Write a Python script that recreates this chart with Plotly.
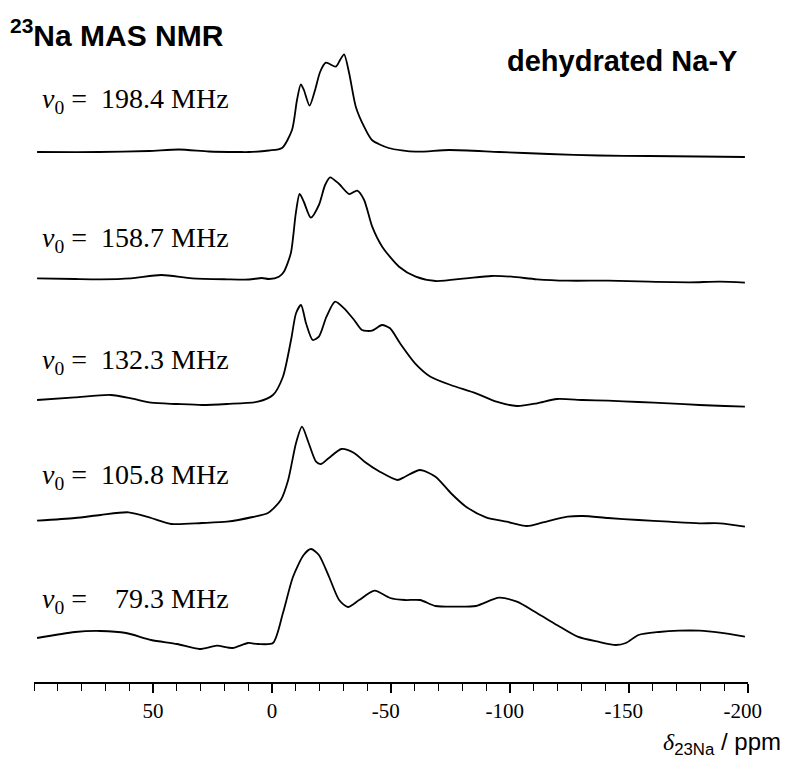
import plotly.graph_objects as go

W, H = 794, 760
ML, MR, MT, MB = 34, 46, 40, 78
PW, PH = W - ML - MR, H - MT - MB

# ---------------- data (chemical shift in ppm, intensity in arbitrary units) -------------
ppm_198 = [98.7, 72.7, 51.7, 39.1, 26.5, 13.9, 9.7, 1.3, -4.2, -8.4, -10.5, -12.1, -13.4, -15.8,
           -18.1, -20.2, -22.6, -26.8, -28.6, -30.3, -32.4, -35.2, -38.7, -42.0, -49.0, -60.4,
           -74.4, -95.4, -116.4, -137.4, -158.4, -179.4, -198.7]
int_198 = [3, 3, 4, 5.5, 3.5, 3, 3, 4.5, 7, 25, 55, 70.7, 65, 49.3,
           65, 83, 92.3, 88.3, 95, 100.7, 82, 48.3, 28.3, 15, 7, 3.3,
           5, 3, 1, -0.5, -1, -1.5, -2]

ppm_158 = [98.7, 82.8, 72.1, 59.2, 46.5, 33.6, 18.9, 9.7, 4.2, 1.3, -2.9, -5.0, -7.9, -10.0,
           -11.6, -13.4, -16.3, -19.7, -22.3, -24.4, -28.2, -32.4, -35.8, -38.7, -42.1, -46.3,
           -53.4, -60.4, -68.8, -81.5, -92.2, -100.7, -111.3, -124.2, -141.2, -158.3, -175.4,
           -188.2, -198.7]
int_158 = [0.7, 0, -0.3, 0.7, 4, 0.7, -0.3, -0.5, 1, 0, 2.3, 7.3, 25.7, 65.7,
           85, 77, 61.3, 74, 94, 101.7, 95, 85, 88.3, 79, 52.3, 32.3,
           12.3, 2.3, -2, 0.7, 3, 2.3, -0.3, -1.7, -1.7, -2.7, -3.3,
           -2.7, -3.7]

ppm_132 = [98.7, 82.8, 67.8, 59.2, 50.8, 40.0, 29.4, 18.9, 5.9, -0.4, -4.6, -8.0, -10.1, -12.2,
           -14.3, -17.1, -19.7, -22.9, -26.5, -30.3, -34.5, -37.8, -42.0, -46.2, -49.6, -53.8,
           -60.1, -66.6, -75.1, -85.7, -94.3, -102.9, -111.3, -119.7, -130.6, -141.2, -154.0,
           -166.8, -179.6, -190.3, -198.7]
int_132 = [3, 5.7, 8, 4.7, 0.3, -1, -2, -1, 1.3, 8, 26.3, 63, 89.7, 98,
           79.7, 63, 66.3, 86.3, 101.3, 94.7, 83, 73, 72.3, 78, 74.7, 59.7,
           39.7, 26.3, 18, 9.7, 1.3, -3, -0.3, 4, 3, 2.3, 1,
           -0.3, -2, -3, -3.7]

ppm_105 = [98.7, 82.8, 72.1, 60.3, 50.8, 42.2, 29.4, 18.9, 8.1, 1.7, -3.7, -6.8, -10.1, -12.6,
           -15.4, -18.5, -20.6, -23.9, -29.2, -34.5, -38.9, -45.3, -52.7, -55.9, -62.2, -68.7,
           -75.1, -81.5, -89.9, -98.6, -107.1, -113.4, -124.2, -130.6, -141.2, -154.0, -166.8,
           -179.6, -188.2, -198.7]
int_105 = [0.3, 3, 6, 8.7, 3, -3, -2, -0.7, 4, 8, 21, 41, 78, 94.3,
           78, 59.3, 57, 63, 72, 68, 59.3, 49.3, 41, 44.3, 51, 44.3,
           28, 14.3, 3.7, -0.7, -5, -1.7, 4.3, 5, 3, 1, -0.7,
           -2.3, -2.3, -5.7]

ppm_79 = [98.7, 82.8, 72.1, 61.3, 50.8, 39.9, 30.5, 23.1, 16.6, 10.1, 5.9, -0.4, -4.6, -8.8,
          -13.3, -16.4, -19.7, -24.0, -28.2, -31.9, -36.6, -43.1, -49.6, -55.9, -62.2, -68.7,
          -77.3, -85.7, -95.4, -102.9, -111.3, -119.7, -128.4, -137.0, -144.5, -148.7, -154.0,
          -162.6, -171.0, -179.6, -188.2, -198.7]
int_79 = [2, 8, 9, 7, 0, -4, -9, -5.7, -8, -3, -4, -3, 27, 63,
          85, 91, 85, 63, 40, 33, 40, 49.3, 42, 40, 40, 34,
          33.3, 34, 42.3, 38.3, 27, 15, 3.3, -1.7, -5, -3, 5,
          8, 9.3, 9.3, 7.3, 3.3]

freqs = ["198.4", "158.7", "132.3", "105.8", "79.3"]
offsets = [527, 403, 279, 161, 42]

tick_vals = [50, 0, -50, -100, -150, -200]
tick_text = ["50", "0", "-50", "-100", "-150", "-200"]

spectra = [(ppm_198, int_198), (ppm_158, int_158), (ppm_132, int_132),
           (ppm_105, int_105), (ppm_79, int_79)]

# ---------------- figure ----------------
fig = go.Figure()
for (xs, ys), off in zip(spectra, offsets):
    fig.add_trace(go.Scatter(
        x=xs, y=[v + off for v in ys], mode="lines",
        line=dict(color="black", width=1.8, shape="spline", smoothing=0.7),
        showlegend=False, hoverinfo="skip"))


def px(x):
    return (x - ML) / PW


def py(y):
    return (H - MB - y) / PH


SERIF = "Liberation Serif, Times New Roman, serif"
SANS = "Liberation Sans, Arial, sans-serif"

ann = []
label_y = [101, 239, 362, 476, 600]
for f, ly in zip(freqs, label_y):
    sp = "\u00a0\u00a0" if len(f) == 5 else "\u00a0\u00a0\u00a0\u00a0"
    ann.append(dict(
        x=px(40), y=py(ly), xref="paper", yref="paper", xanchor="left", yanchor="middle",
        text="<i>\u03bd</i><sub>0</sub> =" + sp + f + " MHz",
        showarrow=False, font=dict(family=SERIF, size=28, color="black")))

ann.append(dict(x=px(8), y=py(33), xref="paper", yref="paper", xanchor="left", yanchor="middle",
                text="<b><sup>23</sup>Na MAS NMR</b>", showarrow=False,
                font=dict(family=SANS, size=30, color="black")))
ann.append(dict(x=px(739), y=py(61), xref="paper", yref="paper", xanchor="right", yanchor="middle",
                text="<b>dehydrated Na-Y</b>", showarrow=False,
                font=dict(family=SANS, size=29, color="black")))
ann.append(dict(x=px(661), y=py(743), xref="paper", yref="paper", xanchor="left", yanchor="middle",
                text="<span style=\"font-family:Liberation Serif\"><i>\u03b4</i></span>"
                     "<sub>23Na</sub> / ppm",
                showarrow=False, font=dict(family=SANS, size=24, color="black")))

# negative labels in the reference sit slightly left of their ticks
tick_text_shown = [t + "\u2002" if t.startswith("-") else t for t in tick_text]

fig.update_layout(
    width=W, height=H, margin=dict(l=ML, r=MR, t=MT, b=MB, pad=0),
    paper_bgcolor="white", plot_bgcolor="white",
    annotations=ann,
    xaxis=dict(range=[100, -200], showgrid=False, zeroline=False,
               showline=True, linecolor="black", linewidth=2,
               ticks="outside", ticklen=9, tickwidth=1.6, tickcolor="black",
               tickvals=tick_vals, ticktext=tick_text_shown,
               tickfont=dict(family=SERIF, size=21, color="black"),
               minor=dict(tickvals=list(range(100, -201, -10)), ticks="outside",
                          ticklen=7, tickwidth=1.4, tickcolor="black")),
    yaxis=dict(range=[0, PH], visible=False, showgrid=False, zeroline=False),
)

fig.write_html("out.html", config={"displayModeBar": False},
               post_script="document.body.style.margin='0px';document.body.style.padding='0px';")
